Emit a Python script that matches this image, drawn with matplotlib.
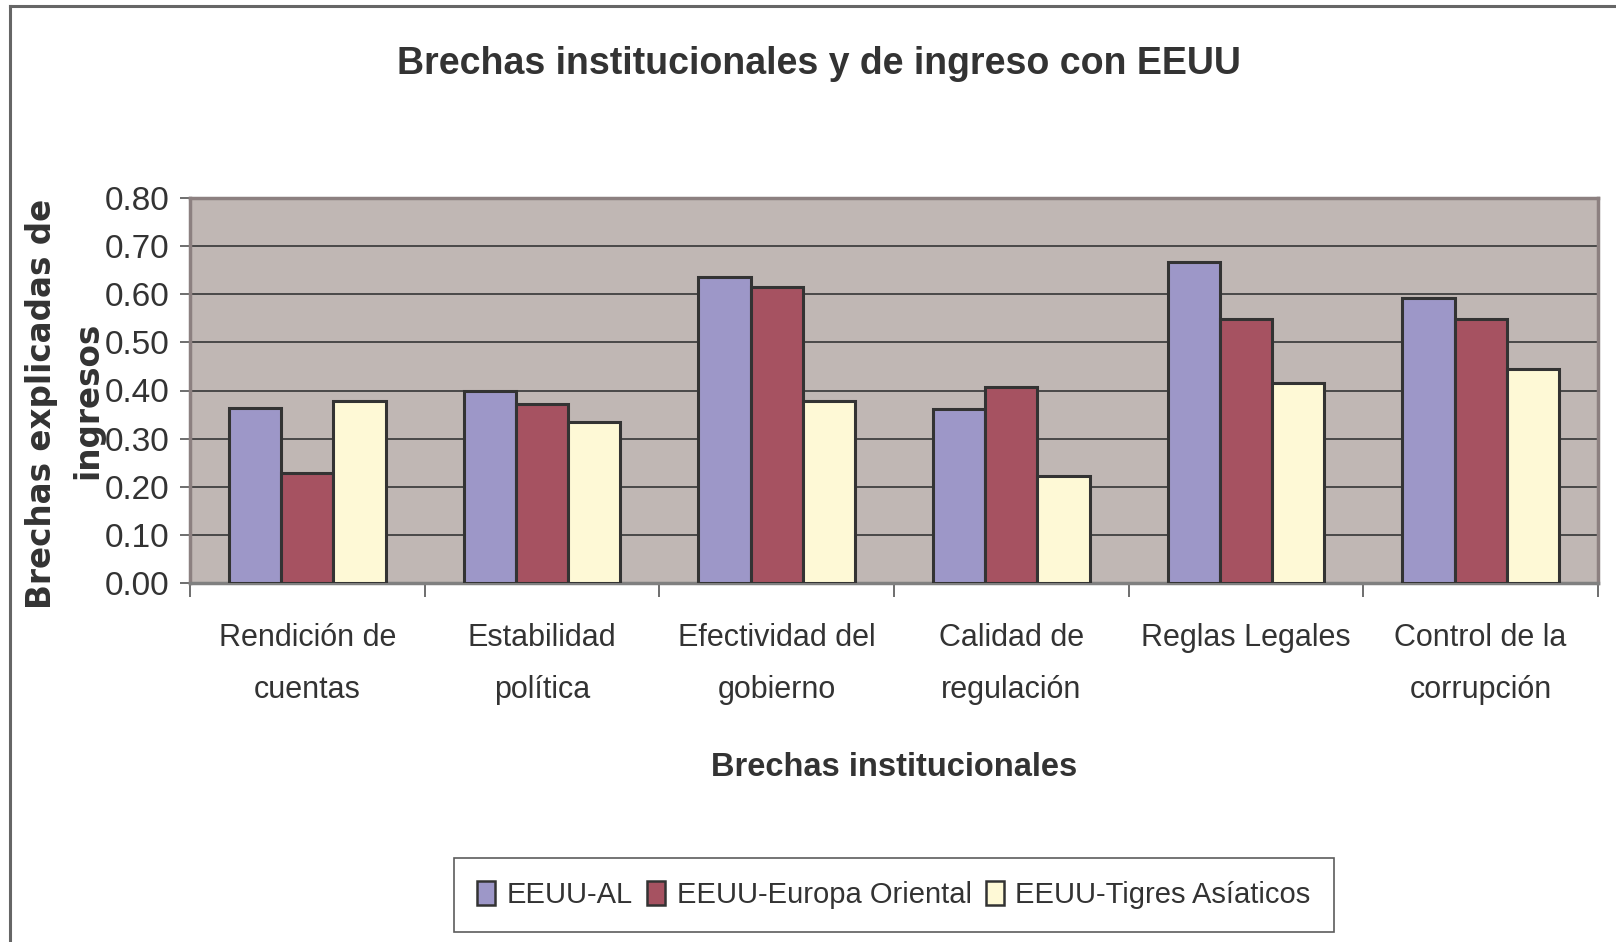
import numpy as np
import matplotlib
matplotlib.use("Agg")
import matplotlib.pyplot as plt
from matplotlib.lines import Line2D

plt.rcParams['font.family'] = ['Liberation Sans', 'DejaVu Sans']

categorias = ["Rendición de\ncuentas", "Estabilidad\npolítica", "Efectividad del\ngobierno",
              "Calidad de\nregulación", "Reglas Legales", "Control de la\ncorrupción"]
series = ["EEUU-AL", "EEUU-Europa Oriental", "EEUU-Tigres Asíaticos"]
eeuu_al = [0.364, 0.399, 0.636, 0.362, 0.667, 0.593]
eeuu_europa = [0.229, 0.372, 0.615, 0.407, 0.549, 0.549]
eeuu_tigres = [0.378, 0.335, 0.378, 0.222, 0.416, 0.445]
colores = ["#9D97C8", "#A65261", "#FEF9D6"]

fig = plt.figure(figsize=(16.16, 9.42), dpi=100)
ax = fig.add_axes([190/1616, 1-583/942, (1598-190)/1616, (583-198)/942])
ax.set_facecolor("#C0B7B4")

x = np.arange(len(categorias))
w = 1/4.5
for i, (vals, c, nombre) in enumerate(zip([eeuu_al, eeuu_europa, eeuu_tigres], colores, series)):
    ax.bar(x + (i-1)*w, vals, w, color=c, edgecolor="#333333", linewidth=2.2,
           label=nombre, zorder=3)

ax.set_xlim(-0.5, len(categorias)-0.5)
ax.set_ylim(0, 0.8)
ax.set_yticks(np.arange(0, 0.81, 0.1))
ax.set_yticklabels([f"{v:.2f}" for v in np.arange(0, 0.81, 0.1)], fontsize=24, color="#333333")
ax.yaxis.grid(True, color="#404040", linewidth=1.3, zorder=1)
ax.tick_params(axis='y', length=7, width=1.2, color="#555555", pad=8, direction='out')

ax.set_xticks(x)
ax.set_xticklabels(categorias, fontsize=22, color="#333333", linespacing=1.95)
ax.tick_params(axis='x', length=0, pad=29)
ax.set_xticks(np.arange(-0.5, len(categorias)), minor=True)
ax.tick_params(axis='x', which='minor', length=10, width=1.2, color="#555555")

for s in ax.spines.values():
    s.set_color("#8C8080")
    s.set_linewidth(2.5)
ax.spines['bottom'].set_color("#808080")

fig.text(819/1616, 1-64/942, "Brechas institucionales y de ingreso con EEUU",
         fontsize=27, fontweight='bold', color="#333333", ha='center', va='center')
fig.text(894/1616, 1-768/942, "Brechas institucionales", fontsize=23.5,
         fontweight='bold', color="#333333", ha='center', va='center')
fig.text(42/1616, 1-404/942, "Brechas explicadas de", fontsize=23.5, family='DejaVu Sans',
         fontweight='bold', color="#333333", ha='center', va='center', rotation=90)
fig.text(88/1616, 1-400/942, "ingresos", fontsize=23.5, family='DejaVu Sans',
         fontweight='bold', color="#333333", ha='center', va='center', rotation=90)

handles = [plt.Rectangle((0, 0), 1, 1, facecolor=c, edgecolor="#333333", linewidth=1.8)
           for c in colores]
leg = fig.legend(handles, series, loc='center', bbox_to_anchor=(894/1616, 1-895/942),
                 ncol=3, fontsize=21, frameon=True, fancybox=False, handlelength=0.6,
                 handleheight=0.9, handletextpad=0.4, columnspacing=0.5, borderpad=0.8)
leg.get_frame().set_edgecolor("#333333")
leg.get_frame().set_linewidth(1.2)
for t in leg.get_texts():
    t.set_color("#333333")

# chart border (left and top visible)
fig.add_artist(Line2D([10/1616, 10/1616], [0, 1-6/942], color="#666666", linewidth=2.2))
fig.add_artist(Line2D([10/1616, 1], [1-6/942, 1-6/942], color="#666666", linewidth=2.2))

fig.savefig("out.png", dpi=100, facecolor="white")
